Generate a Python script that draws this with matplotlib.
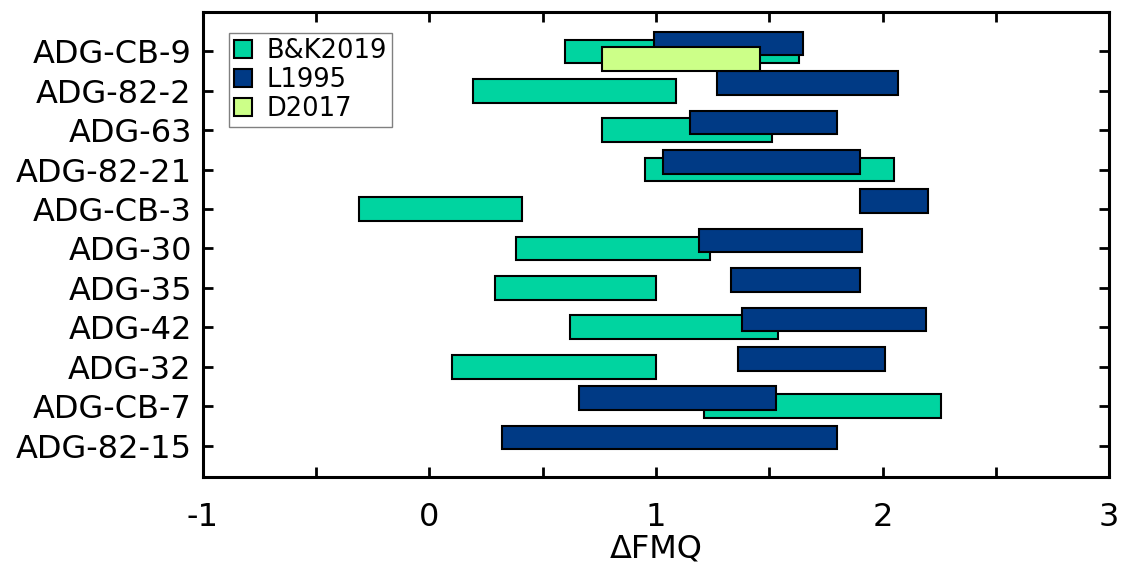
import numpy as np
import matplotlib.pyplot as plt
from matplotlib.patches import Patch

plt.rcParams['font.family'] = 'DejaVu Sans'
plt.rcParams['axes.unicode_minus'] = False

samples = ['ADG-CB-9', 'ADG-82-2', 'ADG-63', 'ADG-82-21', 'ADG-CB-3', 'ADG-30',
           'ADG-35', 'ADG-42', 'ADG-32', 'ADG-CB-7', 'ADG-82-15']

# dFMQ ranges (low, high) per study; nan where a sample was not studied
bk_lo = [0.60, 0.19, 0.76, 0.95, -0.31, 0.38, 0.29, 0.62, 0.10, 1.21, np.nan]
bk_hi = [1.63, 1.09, 1.51, 2.05, 0.41, 1.24, 1.00, 1.54, 1.00, 2.26, np.nan]
l_lo = [0.99, 1.27, 1.15, 1.03, 1.90, 1.19, 1.33, 1.38, 1.36, 0.66, 0.32]
l_hi = [1.65, 2.07, 1.80, 1.90, 2.20, 1.91, 1.90, 2.19, 2.01, 1.53, 1.80]
d_lo = [0.76] + [np.nan] * 10
d_hi = [1.46] + [np.nan] * 10

c_bk = '#00d4a0'
c_l = '#003a85'
c_d = '#ccff88'

y = np.arange(len(samples))[::-1].astype(float)

fig = plt.figure(figsize=(11.25, 5.63), dpi=100)
ax = fig.add_axes([0.1804, 0.1527, 0.8054, 0.826])

h = 0.6
kw = dict(height=h, edgecolor='black', linewidth=1.5)
ax.barh(y, np.array(bk_hi) - np.array(bk_lo), left=bk_lo, color=c_bk, **kw)
ax.barh(y + 0.2, np.array(l_hi) - np.array(l_lo), left=l_lo, color=c_l, **kw)
ax.barh(y - 0.2, np.array(d_hi) - np.array(d_lo), left=d_lo, color=c_d, **kw)

ax.set_xlim(-1, 3)
ax.set_ylim(-0.8, 11.0)
ax.set_yticks(y)
ax.set_yticklabels(samples)
ax.set_xticks([-1, 0, 1, 2, 3])
ax.set_xticks(np.arange(-1, 3.01, 0.5), minor=True)

for s in ax.spines.values():
    s.set_linewidth(2.2)
ax.tick_params(which='both', direction='in', top=True, right=True,
               length=7, width=2, labelsize=23)
ax.tick_params(axis='x', which='major', pad=18)
ax.tick_params(axis='y', pad=8)
ax.set_xlabel('ΔFMQ', fontsize=23, labelpad=0)

handles = [Patch(facecolor=c_bk, edgecolor='black', linewidth=1.5, label='B&K2019'),
           Patch(facecolor=c_l, edgecolor='black', linewidth=1.5, label='L1995'),
           Patch(facecolor=c_d, edgecolor='black', linewidth=1.5, label='D2017')]
leg = ax.legend(handles=handles, loc='upper left', fontsize=18.5, fancybox=False,
                edgecolor='gray', framealpha=1, handlelength=0.7, handleheight=0.7,
                handletextpad=0.55, labelspacing=0.12, borderpad=0.2,
                borderaxespad=0, bbox_to_anchor=(0.0287, 0.955))
leg.get_frame().set_linewidth(1)

fig.savefig('out.png', dpi=100)
